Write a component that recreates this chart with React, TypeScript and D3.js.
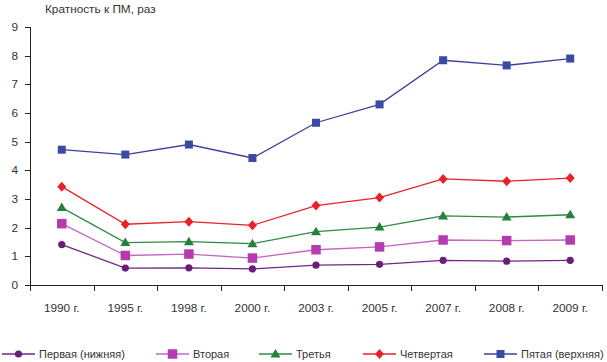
import * as d3 from "d3";

const years = ["1990 г.", "1995 г.", "1998 г.", "2000 г.", "2003 г.", "2005 г.", "2007 г.", "2008 г.", "2009 г."];
const first = [1.41, 0.59, 0.6, 0.56, 0.69, 0.72, 0.86, 0.83, 0.86];
const second = [2.14, 1.03, 1.08, 0.94, 1.23, 1.33, 1.57, 1.55, 1.57];
const third = [2.7, 1.48, 1.51, 1.44, 1.86, 2.02, 2.41, 2.37, 2.45];
const fourth = [3.43, 2.12, 2.21, 2.08, 2.77, 3.05, 3.7, 3.62, 3.73];
const fifth = [4.72, 4.55, 4.9, 4.43, 5.66, 6.3, 7.84, 7.66, 7.9];
const yTicks = [0, 1, 2, 3, 4, 5, 6, 7, 8, 9];

const series = [
  { name: "Первая (нижняя)", values: first, line: "#6e2a82", fill: "#6a1e7a", shape: "circle" },
  { name: "Вторая", values: second, line: "#c565c3", fill: "#b53cae", shape: "square" },
  { name: "Третья", values: third, line: "#2f8a45", fill: "#25803a", shape: "triangle" },
  { name: "Четвертая", values: fourth, line: "#e8232c", fill: "#e8202a", shape: "diamond" },
  { name: "Пятая (верхняя)", values: fifth, line: "#3c4299", fill: "#3a48a6", shape: "square" },
];
const legendX = [2, 156, 259, 363, 484];

const font = "'Liberation Sans', Arial, sans-serif";
const textColor = "#333";

function Marker({ shape, x, y, fill, big }: { shape: string; x: number; y: number; fill: string; big?: boolean }) {
  if (shape === "circle") return <circle cx={x} cy={y} r={3.6} fill={fill} />;
  if (shape === "square") {
    const s = big ? 9.5 : 8;
    return <rect x={x - s / 2} y={y - s / 2} width={s} height={s} fill={fill} />;
  }
  if (shape === "triangle") return <path d={`M${x},${y - 5}L${x + 5},${y + 3.5}L${x - 5},${y + 3.5}Z`} fill={fill} />;
  return <path d={`M${x},${y - 5}L${x + 4.5},${y}L${x},${y + 5}L${x - 4.5},${y}Z`} fill={fill} />;
}

export default function App() {
  const width = 607;
  const height = 362;
  const x = d3.scaleBand().domain(years).range([30, 602]);
  const y = d3.scaleLinear().domain([0, 9]).range([285, 27]);
  const line = d3
    .line<number>()
    .x((d, i) => (x(years[i]) as number) + x.bandwidth() / 2)
    .y((d) => y(d));
  const boundaries = years.map((c) => x(c) as number).concat([602]);

  return (
    <svg width={width} height={height} style={{ position: "absolute", left: 0, top: 0 }} fontFamily={font}>
      <text x={45} y={13} fontSize={11.8} fill={textColor}>
        Кратность к ПМ, раз
      </text>
      {/* y axis */}
      <line x1={30.5} x2={30.5} y1={27} y2={285} stroke="#222" />
      {yTicks.map((t) => (
        <g key={t}>
          <line x1={25} x2={30.5} y1={Math.round(y(t)) + 0.5} y2={Math.round(y(t)) + 0.5} stroke="#222" />
          <text x={18} y={y(t) + 4} fontSize={11.8} fill={textColor} textAnchor="end">
            {t}
          </text>
        </g>
      ))}
      {/* x axis */}
      <line x1={30} x2={602} y1={285.5} y2={285.5} stroke="#222" />
      {boundaries.map((b, i) => (
        <line key={i} x1={Math.round(b) + 0.5} x2={Math.round(b) + 0.5} y1={285} y2={291} stroke="#222" />
      ))}
      {years.map((c) => (
        <text key={c} x={(x(c) as number) + x.bandwidth() / 2} y={312} fontSize={11.8} fill={textColor} textAnchor="middle">
          {c}
        </text>
      ))}
      {series.map((s) => (
        <g key={s.name}>
          <path d={line(s.values) || ""} fill="none" stroke={s.line} strokeWidth={1.3} />
          {s.values.map((v, i) => (
            <Marker
              key={i}
              shape={s.shape}
              x={(x(years[i]) as number) + x.bandwidth() / 2}
              y={y(v)}
              fill={s.fill}
              big={s.name === "Вторая"}
            />
          ))}
        </g>
      ))}
      {series.map((s, i) => (
        <g key={s.name}>
          <line x1={legendX[i]} x2={legendX[i] + 33} y1={354} y2={354} stroke={s.line} strokeWidth={1.3} />
          <Marker shape={s.shape} x={legendX[i] + 16.5} y={354} fill={s.fill} big={s.name === "Вторая"} />
          <text x={legendX[i] + 37} y={358} fontSize={11} fill={textColor}>
            {s.name}
          </text>
        </g>
      ))}
    </svg>
  );
}
